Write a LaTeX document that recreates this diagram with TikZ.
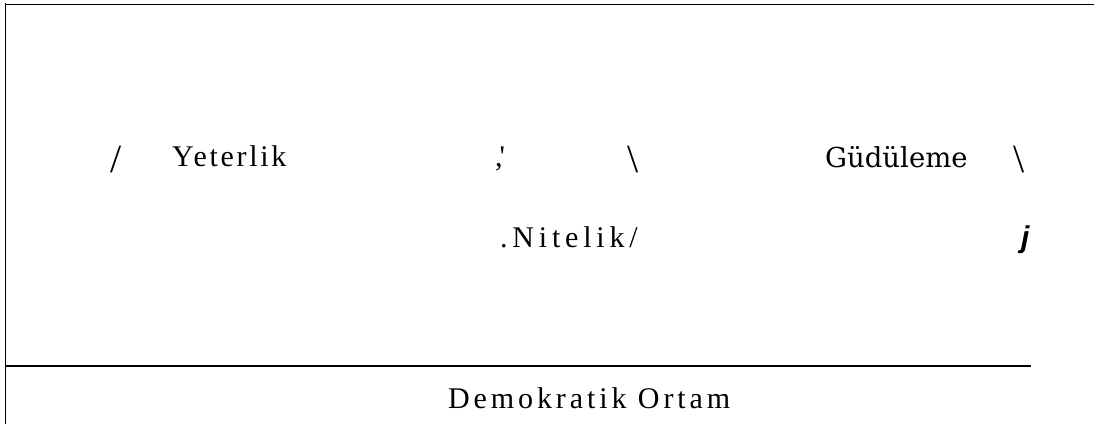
\documentclass[tikz,border=0pt]{standalone}
\usepackage{fontspec}
\setmainfont{Liberation Serif}
\newfontfamily\yfont[LetterSpace=9]{Liberation Serif}
\newfontfamily\nfont[LetterSpace=16]{Liberation Serif}
\newfontfamily\dfont[LetterSpace=13]{Liberation Serif}
\newfontfamily\gfont{DejaVu Serif}
\newfontfamily\jfont{Liberation Sans}
\begin{document}
\begin{tikzpicture}[x=1pt,y=-1pt,
  txt/.style={inner sep=0pt,anchor=base west,font=\fontsize{30}{36}\selectfont},
  slash/.style={inner sep=0pt,anchor=base west,font=\fontsize{40}{48}\selectfont},
  rule/.style={line width=1.5pt,black}]
\useasboundingbox (0,0) rectangle (1094,424);
\coordinate (tl) at (5.5,4.5);
\coordinate (tr) at (1094,4.5);
\coordinate (top) at (5.5,3);
\coordinate (bot) at (5.5,424);
\coordinate (hl) at (5.5,366);
\coordinate (hr) at (1031,366);
\draw[rule] (tl) -- (tr);
\draw[rule] (top) -- (bot);
\draw[rule] (hl) -- (hr);
\node[slash] (s1) at (110,172) {/};
\node[txt,font=\fontsize{30}{36}\yfont] (yet) at (172,166) {Yeterlik};
\node[txt] (cq) at (495,166) {,\kern-3pt\textquotesingle};
\node[slash] (b1) at (627,172) {\textbackslash};
\node[txt,font=\fontsize{27.5}{33}\gfont] (gud) at (825,167) {Güdüleme};
\node[slash] (b2) at (1013,172) {\textbackslash};
\node[txt,font=\fontsize{30}{36}\nfont] (nit) at (500,247) {.Nitelik/};
\node[txt,font=\fontsize{30}{36}\jfont\bfseries\itshape] (j) at (1021,247) {j};
\node[txt,font=\fontsize{30}{36}\dfont] (dem) at (448,408) {Demokratik Ortam};
\end{tikzpicture}
\end{document}
